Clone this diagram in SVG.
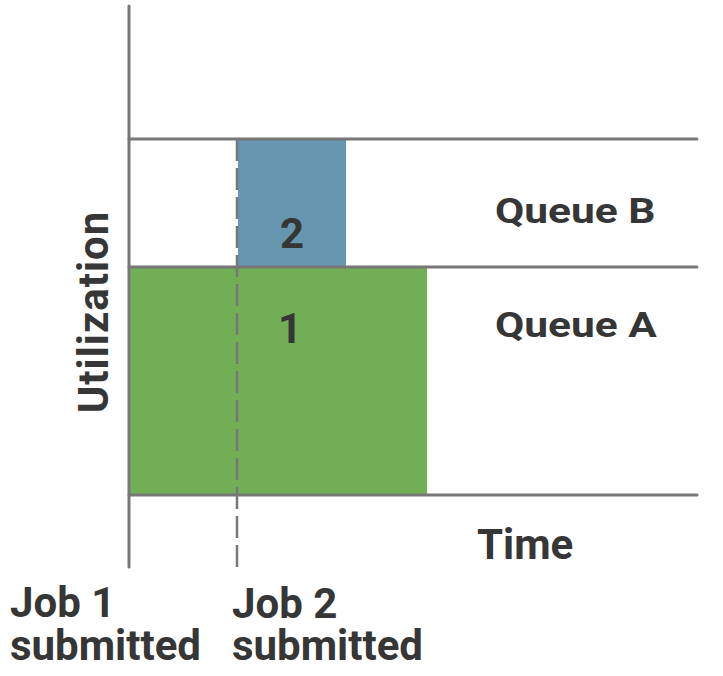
<svg xmlns="http://www.w3.org/2000/svg" width="723" height="676" viewBox="0 0 723 676">
  <style>
    .lbl { font-family: Roboto, "Liberation Sans", sans-serif; font-weight: bold; fill: #363636; }
    .big { font-size: 42px; }
    .queue { font-size: 36px; }
    .axis { stroke: #777; stroke-width: 3; stroke-linecap: round; fill: none; }
    .dash { stroke: #777; stroke-width: 2.5; stroke-dasharray: 22 7; fill: none; }
  </style>
  <rect width="723" height="676" fill="#fff"/>
  <g id="job1-block">
    <rect x="130" y="268" width="297" height="227" fill="#72ae55"/>
    <text class="lbl big" x="290" y="343" text-anchor="middle">1</text>
  </g>
  <g id="job2-block">
    <rect x="238" y="139" width="108" height="128" fill="#6797b0"/>
    <text class="lbl big" x="292" y="248" text-anchor="middle">2</text>
  </g>
  <g id="connectors">
    <line class="axis" x1="129" y1="6" x2="129" y2="567"/>
    <line class="axis" x1="129" y1="139" x2="697" y2="139"/>
    <line class="axis" x1="129" y1="267" x2="697" y2="267"/>
    <line class="axis" x1="129" y1="495" x2="697" y2="495"/>
    <line class="dash" x1="237" y1="139" x2="237" y2="567"/>
  </g>
  <g id="labels">
    <text class="lbl queue" transform="translate(495 223) scale(1.18 1)">Queue B</text>
    <text class="lbl queue" transform="translate(495 337) scale(1.18 1)">Queue A</text>
    <text class="lbl big" x="477" y="559">Time</text>
    <text class="lbl big" x="108" y="312" text-anchor="middle" letter-spacing="1" transform="rotate(-90 108 312)">Utilization</text>
    <text class="lbl big" x="10" y="617">Job 1</text>
    <text class="lbl big" x="10" y="660">submitted</text>
    <text class="lbl big" x="232" y="618">Job 2</text>
    <text class="lbl big" x="232" y="660">submitted</text>
  </g>
</svg>
